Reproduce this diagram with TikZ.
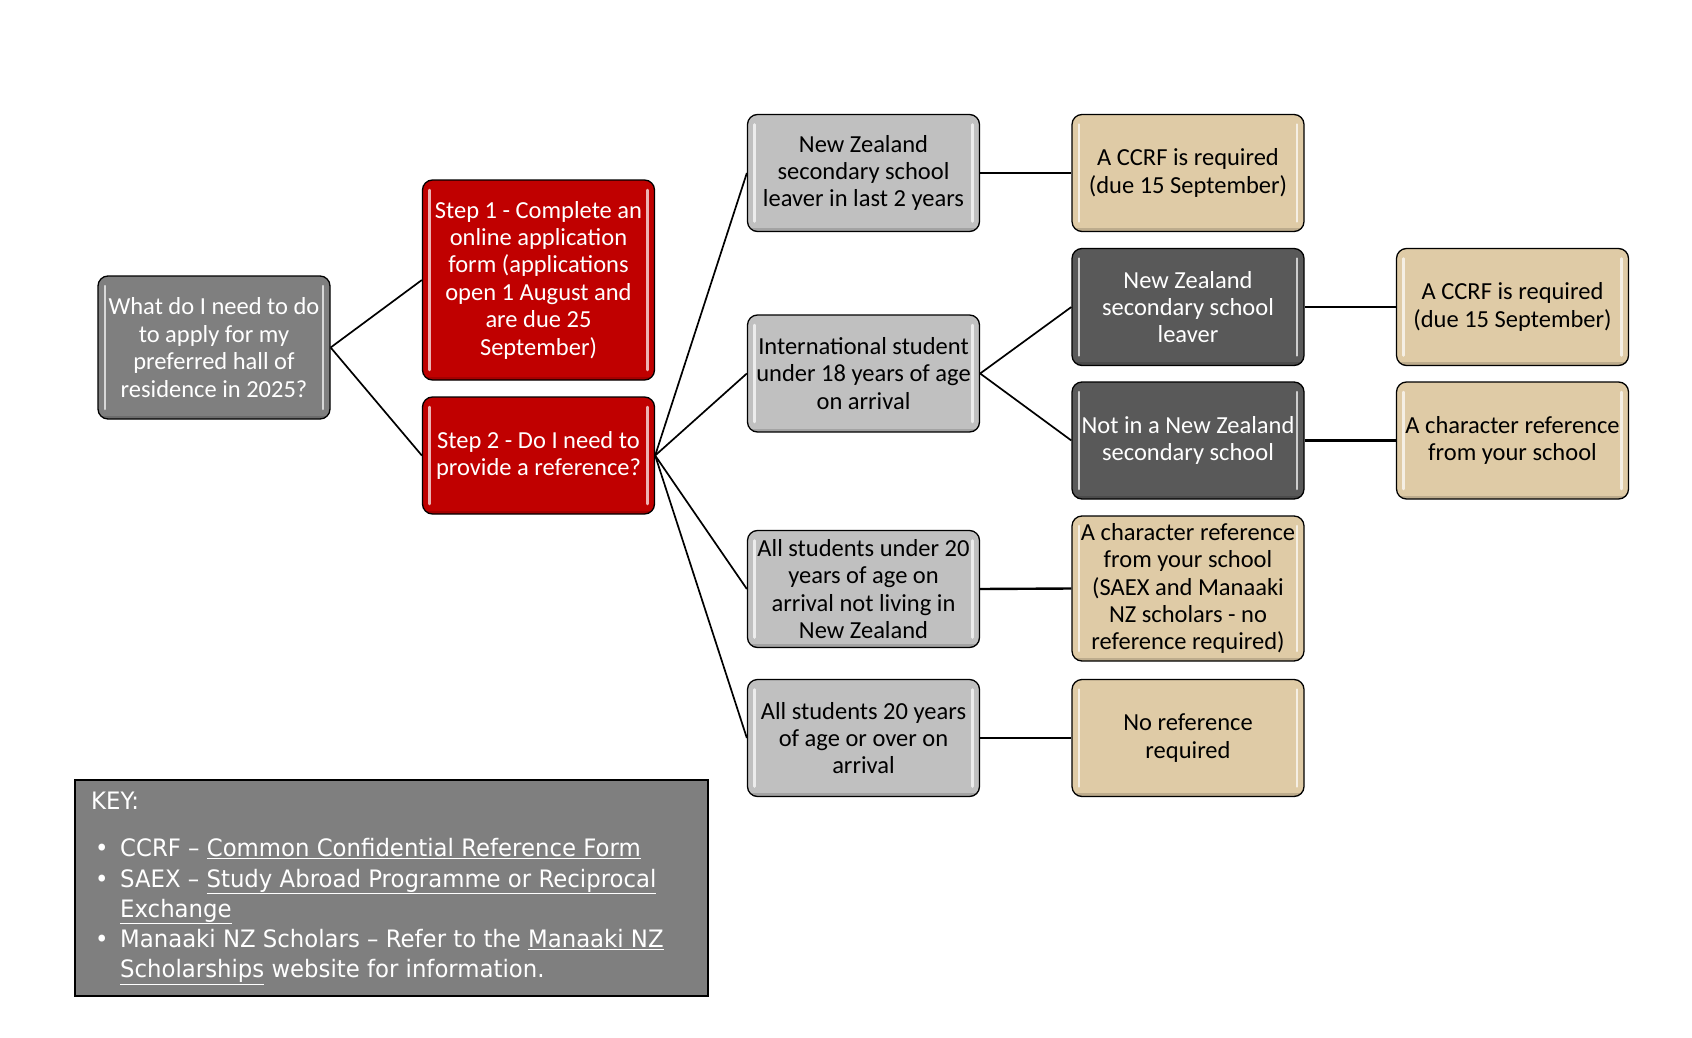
\documentclass[tikz,border=0pt]{standalone}
\usepackage{fontspec}
\setmainfont{Carlito}
\newfontfamily\keyfont[FakeStretch=0.95]{DejaVu Sans}
\definecolor{qgray}{HTML}{7F7F7F}
\definecolor{stepred}{HTML}{C00000}
\definecolor{lgray}{HTML}{C0C0C0}
\definecolor{dgray}{HTML}{595959}
\definecolor{tanc}{HTML}{DFCBA6}
\definecolor{keygray}{HTML}{7F7F7F}
\begin{document}
\begin{tikzpicture}[x=1pt,y=-1pt]
\tikzset{
  basebox/.style={rounded corners=10pt, draw=black, line width=1.3pt,
    minimum width=232pt, minimum height=117pt, inner sep=0pt, align=center,
    font=\fontsize{24.5}{27.4}\selectfont,
    path picture={
      \draw[white, line width=2.5pt, opacity=0.7, line cap=round]
        ([xshift=7pt,yshift=-10pt]path picture bounding box.north west) --
        ([xshift=7pt,yshift=10pt]path picture bounding box.south west);
      \draw[white, line width=2.5pt, opacity=0.7, line cap=round]
        ([xshift=-7pt,yshift=-10pt]path picture bounding box.north east) --
        ([xshift=-7pt,yshift=10pt]path picture bounding box.south east);
      \draw[black, line width=3pt, opacity=0.15]
        ([yshift=2pt]path picture bounding box.south west) --
        ([yshift=2pt]path picture bounding box.south east);
    }},
  qbox/.style={basebox, fill=qgray, text=white},
  redbox/.style={basebox, fill=stepred, text=white},
  lightbox/.style={basebox, fill=lgray, text=black},
  darkbox/.style={basebox, fill=dgray, text=white},
  tanbox/.style={basebox, fill=tanc, text=black},
  link/.style={line width=1.7pt},
  hlink/.style={line width=2.4pt},
}
\useasboundingbox (0,0) rectangle (1692,1038);
\fill[white] (0,0) rectangle (1692,1038);

% column 1 and 2
\node[qbox, minimum height=143pt] (q) at (214,347.5)
  {What do I need to do\\to apply for my\\preferred hall of\\residence in 2025?};
\node[redbox, minimum height=200pt] (s1) at (538.5,280)
  {Step 1 - Complete an\\online application\\form (applications\\open 1 August and\\are due 25\\September)};
\node[redbox] (s2) at (538.5,455.5)
  {Step 2 - Do I need to\\provide a reference?};

% column 3
\node[lightbox] (c3a) at (863.5,173) {New Zealand\\secondary school\\leaver in last 2 years};
\node[lightbox] (c3b) at (863.5,373.5) {International student\\under 18 years of age\\on arrival};
\node[lightbox] (c3c) at (863.5,589) {All students under 20\\years of age on\\arrival not living in\\New Zealand};
\node[lightbox] (c3d) at (863.5,738) {All students 20 years\\of age or over on\\arrival};

% column 4
\node[tanbox] (c4a) at (1188,173) {A CCRF is required\\(due 15 September)};
\node[darkbox] (c4b) at (1188,307) {New Zealand\\secondary school\\leaver};
\node[darkbox] (c4c) at (1188,440.5) {Not in a New Zealand\\secondary school};
\node[tanbox, minimum height=145pt] (c4d) at (1188,588.5) {A character reference\\from your school\\(SAEX and Manaaki\\NZ scholars - no\\reference required)};
\node[tanbox] (c4e) at (1188,738) {No reference\\required};

% column 5
\node[tanbox] (c5b) at (1512.5,307) {A CCRF is required\\(due 15 September)};
\node[tanbox] (c5c) at (1512.5,440.5) {A character reference\\from your school};

% connectors
\draw[link] (q.east) -- (s1.west);
\draw[link] (q.east) -- (s2.west);
\draw[link] (s2.east) -- (c3a.west);
\draw[link] (s2.east) -- (c3b.west);
\draw[link] (s2.east) -- (c3c.west);
\draw[link] (s2.east) -- (c3d.west);
\draw[link] (c3b.east) -- (c4b.west);
\draw[link] (c3b.east) -- (c4c.west);
\draw[hlink] (c3a.east) -- (c4a.west);
\draw[hlink] (c3c.east) -- (c4d.west);
\draw[hlink] (c3d.east) -- (c4e.west);
\draw[hlink] (c4b.east) -- (c5b.west);
\draw[hlink] (c4c.east) -- (c5c.west);

% key
\node[draw=black, line width=1.5pt, fill=keygray, minimum width=633pt, minimum height=216pt,
      anchor=north west, inner sep=0pt] (key) at (74,779) {};
\node[anchor=north west, inner sep=0pt, align=left, text=white,
      font=\keyfont\fontsize{24}{30.2}\selectfont] (keytext) at (91,792)
  {KEY:\\[17pt]
   \makebox[29pt][l]{\hspace{4pt}\textbullet}CCRF – \underline{Common Confidential Reference Form}\\
   \makebox[29pt][l]{\hspace{4pt}\textbullet}SAEX – \underline{Study Abroad Programme or Reciprocal}\\
   \makebox[29pt][l]{}\underline{Exchange}\\
   \makebox[29pt][l]{\hspace{4pt}\textbullet}Manaaki NZ Scholars – Refer to the \underline{Manaaki NZ}\\
   \makebox[29pt][l]{}\underline{Scholarships} website for information.};
\end{tikzpicture}
\end{document}
